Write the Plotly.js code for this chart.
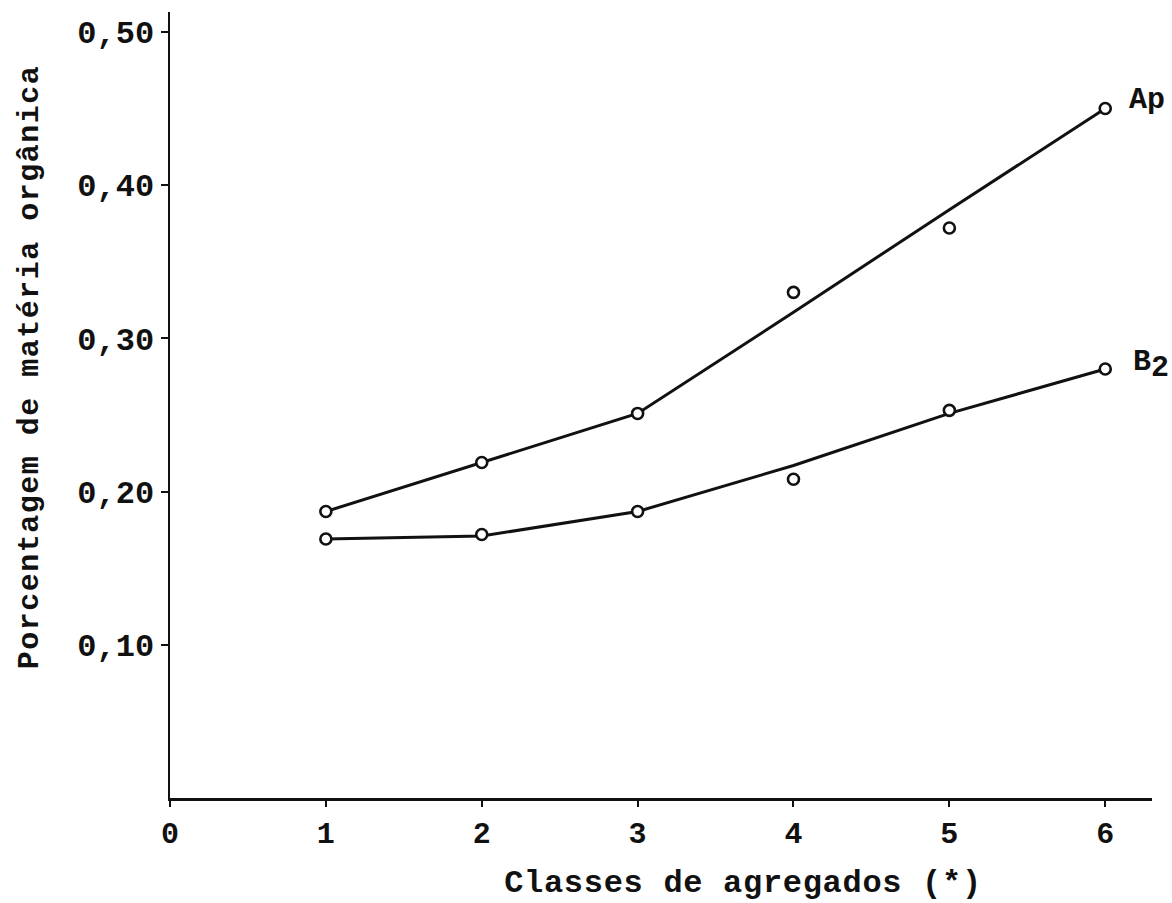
<!DOCTYPE html>
<html>
<head>
<meta charset="utf-8">
<script src="https://cdn.plot.ly/plotly-3.0.1.min.js"></script>
<style>
  html, body { margin: 0; padding: 0; background: #ffffff; }
  #chart { width: 1172px; height: 903px; }
  .xtitle { letter-spacing: 0.7px; translate: 82px 0; }
  .ytitle { letter-spacing: 1.5px; translate: -18px -38px; }
</style>
</head>
<body>
<div id="chart"></div>
<script>
// Aggregate classes (x axis)
const classes = [1, 2, 3, 4, 5, 6];

// Observed organic matter (%) — plotted as circles
const apObserved = [0.187, 0.219, 0.251, 0.330, 0.372, 0.450];
const b2Observed = [0.169, 0.172, 0.187, 0.208, 0.253, 0.280];

// Fitted (drawn) curves through the observations
const apFitted = [0.187, 0.219, 0.251, 0.317, 0.384, 0.450];
const b2Fitted = [0.169, 0.171, 0.187, 0.217, 0.251, 0.280];

// Series labels
const seriesNames = ['Ap', 'B<sub><span style="font-size:30px">2</span></sub>'];

// Axis tick labels
const xTickVals = [0, 1, 2, 3, 4, 5, 6];
const xTickText = ['0', '1', '2', '3', '4', '5', '6'];
const yTickVals = [0.10, 0.20, 0.30, 0.40, 0.50];
const yTickText = ['0,10', '0,20', '0,30', '0,40', '0,50'];

const ink = '#111111';
const mono = 'Liberation Mono, DejaVu Sans Mono, monospace';

function lineTrace(y, name) {
  return {
    x: classes, y: y, mode: 'lines', name: name, showlegend: false,
    line: { color: ink, width: 3 }, hoverinfo: 'skip'
  };
}
function markerTrace(y, name) {
  return {
    x: classes, y: y, mode: 'markers', name: name, showlegend: false,
    marker: { symbol: 'circle', size: 11, color: '#ffffff', line: { color: ink, width: 2.6 } }
  };
}

const data = [
  lineTrace(apFitted, 'Ap'),
  lineTrace(b2Fitted, 'B2'),
  markerTrace(apObserved, 'Ap'),
  markerTrace(b2Observed, 'B2')
];

const lastIdx = classes.length - 1;
const layout = {
  width: 1172, height: 903,
  paper_bgcolor: '#ffffff', plot_bgcolor: '#ffffff',
  margin: { l: 170, r: 20, t: 12, b: 105 },
  showlegend: false,
  font: { family: mono, color: ink },
  xaxis: {
    range: [0, 6.30],
    showline: true, linewidth: 3, linecolor: ink,
    showgrid: false, zeroline: false,
    ticks: 'outside', ticklen: 6, tickwidth: 2, tickcolor: ink,
    tickvals: xTickVals, ticktext: xTickText,
    tickfont: { family: mono, size: 30, color: ink, weight: 'bold' },
    title: { text: 'Classes de agregados (*)', font: { family: mono, size: 32, color: ink, weight: 'bold' }, standoff: 19 }
  },
  yaxis: {
    range: [0, 0.513],
    showline: true, linewidth: 2.5, linecolor: ink,
    showgrid: false, zeroline: false,
    ticks: 'outside', ticklen: 7, tickwidth: 2, tickcolor: ink,
    tickvals: yTickVals, ticktext: yTickText,
    tickfont: { family: mono, size: 32, color: ink, weight: 'bold' },
    title: { text: 'Porcentagem de matéria orgânica', font: { family: mono, size: 30, color: ink, weight: 'bold' }, standoff: 12 }
  },
  annotations: [
    { x: classes[lastIdx], y: apObserved[lastIdx], xref: 'x', yref: 'y', text: seriesNames[0],
      showarrow: false, xshift: 42, yshift: 9, font: { family: mono, size: 30, color: ink, weight: 'bold' } },
    { x: classes[lastIdx], y: b2Observed[lastIdx], xref: 'x', yref: 'y', text: seriesNames[1],
      showarrow: false, xshift: 46, yshift: 4, font: { family: mono, size: 30, color: ink, weight: 'bold' } }
  ]
};

Plotly.newPlot('chart', data, layout, { displayModeBar: false, staticPlot: true });
</script>
</body>
</html>
